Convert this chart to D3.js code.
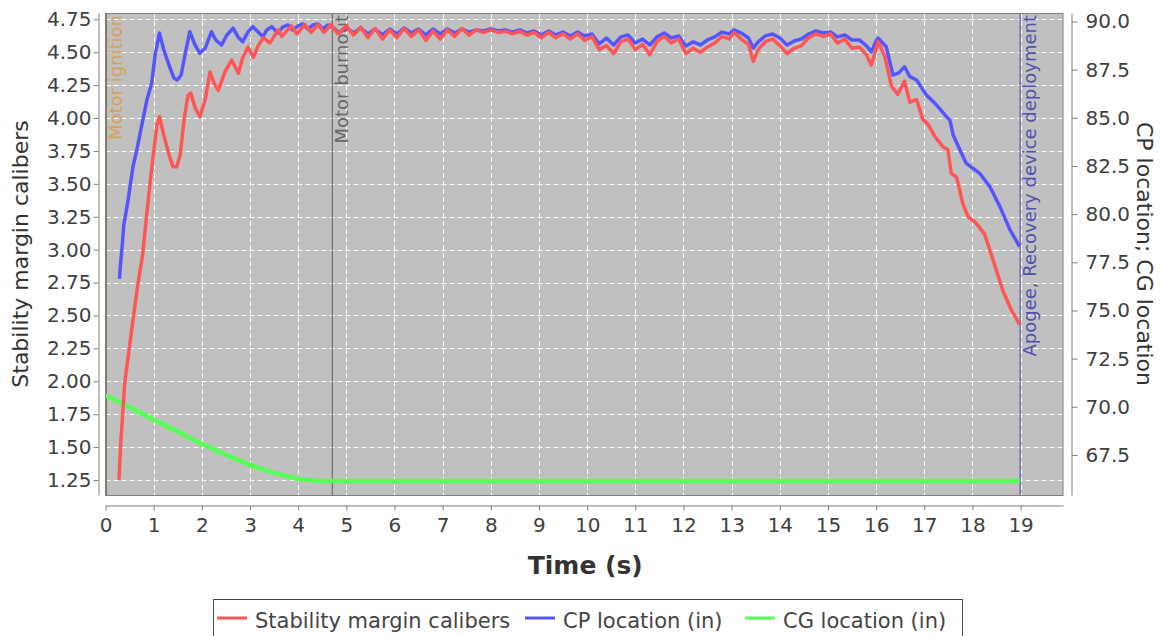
<!DOCTYPE html>
<html>
<head>
<meta charset="utf-8">
<script src="https://cdn.jsdelivr.net/npm/d3@7/dist/d3.min.js"></script>
<style>
  body { margin: 0; background: #fff; }
  svg text { font-family: "DejaVu Sans", sans-serif; }
</style>
</head>
<body>
<svg id="chart" width="1162" height="636"></svg>
<script>
// values: [time (s), value]
const stability = [
  [0.28,1.25],[0.32,1.55],[0.40,1.99],[0.49,2.24],[0.58,2.49],[0.67,2.73],[0.77,2.96],[0.86,3.28],
  [0.92,3.49],[0.99,3.71],[1.07,3.95],[1.12,4.01],[1.21,3.87],[1.32,3.72],[1.40,3.63],[1.48,3.63],
  [1.55,3.72],[1.63,3.98],[1.71,4.17],[1.77,4.19],[1.86,4.08],[1.96,4.01],[2.07,4.14],[2.17,4.35],
  [2.25,4.27],[2.34,4.21],[2.48,4.35],[2.62,4.44],[2.76,4.34],[2.85,4.46],[2.96,4.54],[3.07,4.46],
  [3.17,4.55],[3.28,4.61],[3.41,4.57],[3.59,4.67],[3.66,4.62],[3.86,4.70],[3.97,4.64],[4.14,4.71],
  [4.27,4.65],[4.41,4.71],[4.54,4.65],[4.68,4.71],[4.83,4.64],[5.00,4.70],[5.15,4.63],[5.30,4.69],
  [5.45,4.61],[5.60,4.68],[5.75,4.60],[5.90,4.67],[6.05,4.61],[6.20,4.68],[6.35,4.62],[6.50,4.67],
  [6.65,4.59],[6.80,4.66],[6.95,4.60],[7.10,4.67],[7.25,4.62],[7.40,4.68],[7.55,4.63],[7.70,4.67],
  [7.85,4.65],[8.00,4.67],[8.15,4.65],[8.30,4.66],[8.45,4.64],[8.60,4.66],[8.75,4.63],[8.90,4.65],
  [9.05,4.61],[9.20,4.65],[9.35,4.61],[9.50,4.64],[9.65,4.60],[9.80,4.64],[9.95,4.59],[10.10,4.62],
  [10.25,4.52],[10.40,4.55],[10.55,4.49],[10.70,4.58],[10.85,4.60],[11.00,4.52],[11.15,4.56],[11.30,4.48],
  [11.45,4.58],[11.60,4.62],[11.75,4.57],[11.90,4.60],[12.05,4.49],[12.20,4.53],[12.35,4.50],[12.50,4.54],
  [12.65,4.57],[12.80,4.62],[12.95,4.60],[13.05,4.65],[13.20,4.60],[13.35,4.56],[13.45,4.43],[13.55,4.52],
  [13.70,4.58],[13.85,4.60],[14.00,4.55],[14.15,4.49],[14.30,4.53],[14.45,4.55],[14.60,4.61],[14.75,4.64],
  [14.90,4.62],[15.05,4.64],[15.20,4.57],[15.35,4.60],[15.50,4.53],[15.65,4.54],[15.80,4.48],[15.90,4.40],
  [16.04,4.58],[16.18,4.47],[16.32,4.24],[16.45,4.18],[16.59,4.28],[16.70,4.12],[16.84,4.14],[16.97,3.99],
  [17.08,3.95],[17.22,3.86],[17.39,3.78],[17.49,3.76],[17.56,3.58],[17.67,3.55],[17.80,3.35],[17.91,3.25],
  [18.08,3.20],[18.25,3.12],[18.43,2.92],[18.63,2.69],[18.81,2.54],[18.98,2.43]
];

const cpLocation = [
  [0.29,76.64],[0.31,77.36],[0.34,78.14],[0.38,79.44],[0.47,80.74],[0.57,82.45],[0.65,83.33],[0.72,84.21],
  [0.86,85.93],[0.96,86.81],[1.03,88.26],[1.12,89.40],[1.21,88.52],[1.34,87.59],[1.42,87.07],[1.49,86.96],
  [1.57,87.22],[1.65,88.26],[1.75,89.47],[1.86,88.78],[1.96,88.35],[2.07,88.62],[2.20,89.47],[2.29,89.04],
  [2.41,88.78],[2.52,89.30],[2.65,89.65],[2.75,89.20],[2.85,88.95],[2.96,89.46],[3.06,89.73],[3.17,89.46],
  [3.27,89.21],[3.35,89.56],[3.45,89.73],[3.52,89.56],[3.58,89.40],[3.68,89.71],[3.79,89.82],[3.89,89.56],
  [4.00,89.77],[4.10,89.87],[4.20,89.61],[4.31,89.82],[4.41,89.87],[4.51,89.61],[4.62,89.82],[4.74,89.66],
  [4.85,89.40],[5.00,89.71],[5.15,89.40],[5.30,89.66],[5.45,89.35],[5.60,89.61],[5.75,89.30],[5.90,89.61],
  [6.05,89.35],[6.20,89.66],[6.35,89.40],[6.50,89.61],[6.65,89.30],[6.80,89.61],[6.95,89.35],[7.10,89.61],
  [7.25,89.40],[7.40,89.61],[7.55,89.45],[7.70,89.56],[7.85,89.51],[8.00,89.61],[8.15,89.51],[8.30,89.56],
  [8.45,89.45],[8.60,89.56],[8.75,89.40],[8.90,89.51],[9.05,89.30],[9.20,89.51],[9.35,89.30],[9.50,89.45],
  [9.65,89.25],[9.80,89.45],[9.95,89.25],[10.10,89.35],[10.25,88.83],[10.40,89.14],[10.55,88.78],[10.70,89.20],
  [10.85,89.30],[11.00,88.88],[11.15,89.09],[11.30,88.78],[11.45,89.20],[11.60,89.40],[11.75,89.14],[11.90,89.25],
  [12.05,88.73],[12.20,88.94],[12.35,88.78],[12.50,89.04],[12.65,89.20],[12.80,89.45],[12.95,89.35],[13.05,89.56],
  [13.20,89.40],[13.35,89.14],[13.45,88.62],[13.55,88.94],[13.70,89.25],[13.85,89.35],[14.00,89.14],[14.15,88.78],
  [14.30,88.99],[14.45,89.09],[14.60,89.35],[14.75,89.51],[14.90,89.40],[15.05,89.45],[15.20,89.20],[15.35,89.30],
  [15.50,89.04],[15.65,89.04],[15.80,88.73],[15.90,88.42],[16.00,88.99],[16.04,89.14],[16.21,88.69],[16.35,87.22],
  [16.47,87.33],[16.59,87.65],[16.70,87.14],[16.84,86.96],[17.04,86.19],[17.22,85.76],[17.46,85.06],[17.53,84.89],
  [17.60,84.11],[17.74,83.33],[17.87,82.64],[18.15,82.12],[18.36,81.43],[18.57,80.39],[18.78,79.18],[18.98,78.31]
];

const cgLocation = [
  [0.0,70.59],[0.5,69.97],[1.0,69.32],[1.5,68.70],[2.0,68.07],[2.5,67.50],[3.0,66.98],[3.5,66.57],
  [4.0,66.26],[4.4,66.15],[18.98,66.15]
];

const timeTicks = d3.range(0, 20);
const stabilityTicks = [1.25,1.50,1.75,2.00,2.25,2.50,2.75,3.00,3.25,3.50,3.75,4.00,4.25,4.50,4.75];
const locationTicks = [67.5,70.0,72.5,75.0,77.5,80.0,82.5,85.0,87.5,90.0];

const eventNames = ["Motor ignition", "Motor burnout", "Apogee, Recovery device deployment"];
const eventTimes = [0.0, 4.70, 18.98];

const seriesNames = ["Stability margin calibers", "CP location (in)", "CG location (in)"];

// layout (plot area in pixels)
var pLeft = 105.5, pRight = 1063, pTop = 13, pBottom = 495;
var svg = d3.select("#chart");

var x = d3.scaleLinear().domain([0, 19.88]).range([pLeft, pRight]);
var yLeft = d3.scaleLinear().domain([1.136, 4.798]).range([pBottom, pTop]);
var yRight = d3.scaleLinear().domain([65.42, 90.44]).range([pBottom, pTop]);

svg.append("rect").attr("width", 1162).attr("height", 636).attr("fill", "#fff");

svg.append("defs").append("clipPath").attr("id", "plotclip")
  .append("rect").attr("x", pLeft).attr("y", pTop)
  .attr("width", pRight - pLeft).attr("height", pBottom - pTop);

// plot background
svg.append("rect")
  .attr("x", pLeft).attr("y", pTop)
  .attr("width", pRight - pLeft).attr("height", pBottom - pTop)
  .attr("fill", "#c0c0c0");

// grid
var grid = svg.append("g").attr("stroke", "#fff").attr("stroke-width", 1)
  .attr("stroke-dasharray", "5,3");
grid.selectAll(".h").data(stabilityTicks).join("line")
  .attr("x1", pLeft).attr("x2", pRight)
  .attr("y1", d => Math.round(yLeft(d)) + 0.5).attr("y2", d => Math.round(yLeft(d)) + 0.5);
grid.selectAll(".v").data(timeTicks.slice(1)).join("line")
  .attr("y1", pTop).attr("y2", pBottom)
  .attr("x1", d => Math.round(x(d)) + 0.5).attr("x2", d => Math.round(x(d)) + 0.5);

// event markers, drawn behind the data
var eventLine = ["#8b7050", "#707070", "#5a5ab0"];
var eventText = ["#d9a05a", "#666666", "#5050b0"];
var markers = svg.append("g");
eventTimes.forEach(function (t, i) {
  markers.append("line")
    .attr("x1", x(t) + 0.5).attr("x2", x(t) + 0.5)
    .attr("y1", pTop).attr("y2", pBottom)
    .attr("stroke", eventLine[i]).attr("stroke-width", i == 0 ? 2 : 1.2);
  markers.append("text")
    .attr("transform", "translate(" + (x(t) + 16) + "," + (pTop + 2) + ") rotate(-90)")
    .attr("text-anchor", "end")
    .attr("font-size", 18)
    .attr("fill", eventText[i])
    .text(eventNames[i]);
});

// series
var lines = svg.append("g").attr("clip-path", "url(#plotclip)")
  .attr("fill", "none").attr("stroke-linejoin", "round");
var lineRight = d3.line().x(d => x(d[0])).y(d => yRight(d[1]));
var lineLeft = d3.line().x(d => x(d[0])).y(d => yLeft(d[1]));
lines.append("path").attr("d", lineRight(cgLocation)).attr("stroke", "#55ff55").attr("stroke-width", 4.5);
lines.append("path").attr("d", lineRight(cpLocation)).attr("stroke", "#5555ff").attr("stroke-width", 3.5);
lines.append("path").attr("d", lineLeft(stability)).attr("stroke", "#ff5555").attr("stroke-width", 3.5);

// plot outline
svg.append("rect")
  .attr("x", pLeft).attr("y", pTop + 0.5)
  .attr("width", pRight - pLeft).attr("height", pBottom - pTop)
  .attr("fill", "none").attr("stroke", "#808080");

// axes
function styleAxis(g) {
  g.select(".domain").attr("stroke", "#808080");
  g.selectAll(".tick line").attr("stroke", "#808080");
  g.selectAll(".tick text").attr("fill", "#404040").attr("font-size", 20)
    .attr("font-family", "DejaVu Sans");
}

svg.append("g").attr("transform", "translate(98.5,0)")
  .call(d3.axisLeft(yLeft).tickValues(stabilityTicks).tickFormat(d3.format(".2f"))
    .tickSize(5).tickSizeOuter(0).tickPadding(2))
  .call(styleAxis);

svg.append("g").attr("transform", "translate(1071.5,0)")
  .call(d3.axisRight(yRight).tickValues(locationTicks).tickFormat(d3.format(".1f"))
    .tickSize(6).tickSizeOuter(0).tickPadding(8))
  .call(styleAxis);

svg.append("g").attr("transform", "translate(0,505.5)")
  .call(d3.axisBottom(x).tickValues(timeTicks).tickFormat(d3.format("d"))
    .tickSize(5).tickSizeOuter(0).tickPadding(7))
  .call(styleAxis);

// axis titles
svg.append("text")
  .attr("transform", "translate(28," + ((pTop + pBottom) / 2) + ") rotate(-90)")
  .attr("text-anchor", "middle").attr("font-size", 22).attr("fill", "#333")
  .text("Stability margin calibers");

svg.append("text")
  .attr("transform", "translate(1137," + ((pTop + pBottom) / 2) + ") rotate(90)")
  .attr("text-anchor", "middle").attr("font-size", 22).attr("fill", "#333")
  .text("CP location; CG location");

svg.append("text")
  .attr("x", (pLeft + pRight) / 2 + 1).attr("y", 574)
  .attr("text-anchor", "middle").attr("font-size", 25).attr("font-weight", "bold")
  .attr("fill", "#333")
  .text("Time (s)");

// legend
var legendColors = ["#ff5555", "#5555ff", "#55ff55"];
var legendX = [217, 525, 745];
var legend = svg.append("g");
legend.append("rect")
  .attr("x", 213.5).attr("y", 599.5).attr("width", 749).attr("height", 45)
  .attr("fill", "#fff").attr("stroke", "#444");
seriesNames.forEach(function (name, i) {
  legend.append("line")
    .attr("x1", legendX[i]).attr("x2", legendX[i] + 30)
    .attr("y1", 618).attr("y2", 618)
    .attr("stroke", legendColors[i]).attr("stroke-width", 3);
  legend.append("text")
    .attr("x", legendX[i] + 38).attr("y", 628)
    .attr("font-size", 21).attr("fill", "#444")
    .text(name);
});
</script>
</body>
</html>
